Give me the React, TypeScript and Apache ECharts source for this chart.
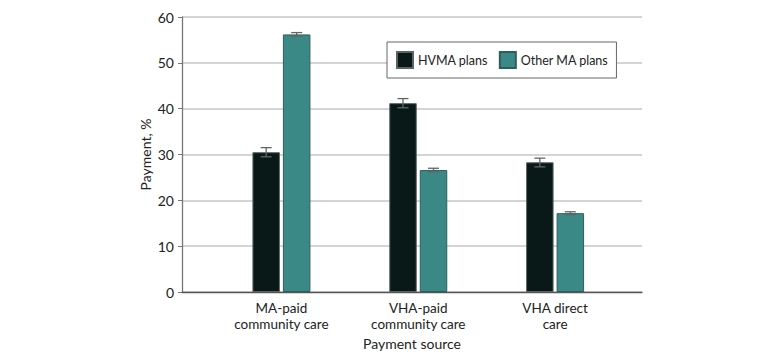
import React, { useEffect, useRef } from "react";
import * as echarts from "echarts";

const categories = ["MA-paid\ncommunity care", "VHA-paid\ncommunity care", "VHA direct\ncare"];
const seriesNames = ["HVMA plans", "Other MA plans"];
const hvmaValues = [30.5, 41.2, 28.3];
const otherValues = [56.2, 26.6, 17.2];
const hvmaLow = [29.5, 40.2, 27.3];
const hvmaHigh = [31.5, 42.2, 29.2];
const otherLow = [55.8, 26.2, 16.9];
const otherHigh = [56.6, 27.0, 17.5];
const yTicks = [0, 10, 20, 30, 40, 50, 60];

const FONT = "Lato, 'Noto Sans', sans-serif";
const BAR_W = 27.5;
const BAR_GAP_PX = 3;
const COLORS = ["#081918", "#3b8986"];

export default function App() {
  const ref = useRef<HTMLDivElement>(null);
  useEffect(() => {
    if (!ref.current) return;
    const chart = echarts.init(ref.current, undefined, { renderer: "svg" });
    const offset = (BAR_W + BAR_GAP_PX) / 2;
    const errSeries = (name: string, lows: number[], highs: number[], dx: number) => ({
      type: "custom",
      name: name + " CI",
      xAxisIndex: 1,
      yAxisIndex: 1,
      z: 5,
      silent: true,
      data: lows.map((l, i) => [i, l, highs[i]]),
      renderItem: (params: any, api: any) => {
        const lo = api.coord([api.value(0), api.value(1)]);
        const hi = api.coord([api.value(0), api.value(2)]);
        const x = lo[0] + dx;
        const cap = 5.5;
        const style = { stroke: "#5f6666", lineWidth: 1.3 };
        return {
          type: "group",
          children: [
            { type: "line", shape: { x1: x, y1: lo[1], x2: x, y2: hi[1] }, style },
            { type: "line", shape: { x1: x - cap, y1: lo[1], x2: x + cap, y2: lo[1] }, style },
            { type: "line", shape: { x1: x - cap, y1: hi[1], x2: x + cap, y2: hi[1] }, style },
          ],
        };
      },
    });
    chart.setOption({
      animation: false,
      textStyle: { fontFamily: FONT },
      legend: {
        data: seriesNames,
        left: 387,
        top: 42,
        orient: "horizontal",
        itemWidth: 16,
        itemHeight: 16,
        itemGap: 11,
        padding: [9, 8, 9, 9],
        borderColor: "#666",
        borderWidth: 1,
        backgroundColor: "#fff",
        icon: "rect",
        textStyle: { fontFamily: FONT, fontSize: 12.5, color: "#222" },
      },
      grid: [
        { left: 182, right: 138, top: 17, bottom: 72 },
        { left: 213, right: 156.5, top: 17, bottom: 72 },
      ],
      xAxis: [
        {
          gridIndex: 0,
          type: "value",
          min: 0,
          max: 1,
          axisLine: { show: true, lineStyle: { color: "#555", width: 1.3 } },
          axisTick: { show: false },
          axisLabel: { show: false },
          splitLine: { show: false },
          name: "Payment source",
          nameLocation: "middle",
          nameGap: 44,
          nameMoveOverlap: false,
          nameTextStyle: { fontFamily: FONT, fontSize: 14, color: "#222" },
        },
        {
          gridIndex: 1,
          type: "category",
          data: categories,
          axisLine: { show: false },
          axisTick: { show: false },
          axisLabel: {
            margin: 8,
            fontFamily: FONT,
            fontSize: 13.5,
            color: "#222",
            lineHeight: 16,
          },
        },
      ],
      yAxis: [
        {
          gridIndex: 0,
          type: "value",
          min: 0,
          max: 60,
          interval: 10,
          axisLine: { show: true, lineStyle: { color: "#777", width: 1.3 } },
          axisTick: { show: true, length: 4, lineStyle: { color: "#777" } },
          axisLabel: {
            margin: 8,
            fontFamily: FONT,
            fontSize: 14,
            color: "#222",
            formatter: (v: number) => (yTicks.includes(v) ? String(v) : ""),
          },
          splitLine: { show: true, lineStyle: { color: "#c6c6c6", width: 1.5 } },
          name: "Payment, %",
          nameLocation: "middle",
          nameGap: 30,
          nameMoveOverlap: false,
          nameTextStyle: { fontFamily: FONT, fontSize: 14, color: "#222" },
        },
        {
          gridIndex: 1,
          type: "value",
          min: 0,
          max: 60,
          interval: 10,
          show: false,
          splitLine: { show: false },
        },
      ],
      series: [
        {
          type: "bar",
          name: seriesNames[0],
          xAxisIndex: 1,
          yAxisIndex: 1,
          data: hvmaValues,
          barWidth: BAR_W,
          barGap: (BAR_GAP_PX / BAR_W) * 100 + "%",
          itemStyle: { color: COLORS[0], borderColor: "#5a6464", borderWidth: 1 },
        },
        {
          type: "bar",
          name: seriesNames[1],
          xAxisIndex: 1,
          yAxisIndex: 1,
          data: otherValues,
          barWidth: BAR_W,
          barGap: (BAR_GAP_PX / BAR_W) * 100 + "%",
          itemStyle: { color: COLORS[1], borderColor: "#2e5e5c", borderWidth: 1 },
        },
        errSeries(seriesNames[0], hvmaLow, hvmaHigh, -offset),
        errSeries(seriesNames[1], otherLow, otherHigh, offset),
      ],
    });
    return () => chart.dispose();
  }, []);
  return <div ref={ref} style={{ width: 780, height: 364, margin: -8 }} />;
}
